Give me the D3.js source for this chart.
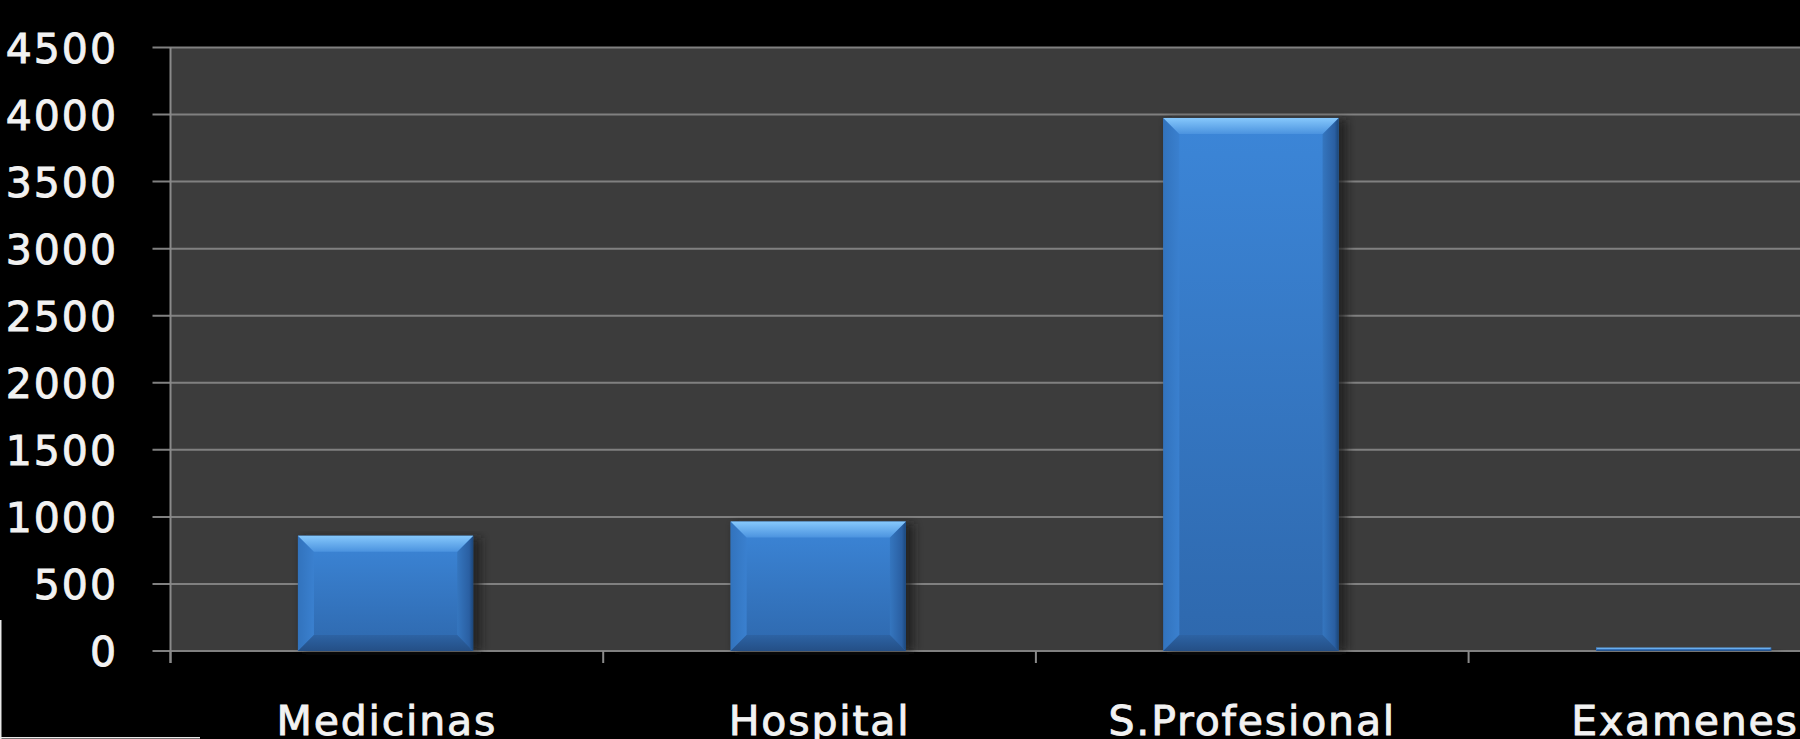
<!DOCTYPE html>
<html>
<head>
<meta charset="utf-8">
<script src="https://cdn.jsdelivr.net/npm/d3@7/dist/d3.min.js"></script>
<style>
  html, body { margin: 0; padding: 0; background: #000; overflow: hidden; }
  svg { display: block; }
  text { font-family: "DejaVu Sans", Verdana, sans-serif; fill: #f2f2f2; }
</style>
</head>
<body>
<svg id="chart" width="1800" height="739"></svg>
<script>
// Gastos por rubro
const categories = ["Medicinas", "Hospital", "S.Profesional", "Examenes"];
const values = [860, 965, 3975, 25];
const yTicks = [0, 500, 1000, 1500, 2000, 2500, 3000, 3500, 4000, 4500];

const W = 1800, H = 739;
const plotLeft = 170.5, plotTop = 47.5, plotBase = 651;
const step = 432.7;

const svg = d3.select("#chart");

const x = d3.scaleBand()
  .domain(categories)
  .range([plotLeft, plotLeft + step * categories.length])
  .paddingInner(0.595)
  .paddingOuter(0.2975);

const slot = d3.scaleBand()
  .domain(categories)
  .range([plotLeft, plotLeft + step * categories.length])
  .padding(0);

const y = d3.scaleLinear().domain([0, 4500]).range([plotBase, plotTop]);

// Gradients and shadow filter for the bevelled bars
const defs = svg.append("defs");
function linGrad(id, x1, y1, x2, y2, stops) {
  const g = defs.append("linearGradient").attr("id", id)
    .attr("x1", x1).attr("y1", y1).attr("x2", x2).attr("y2", y2);
  stops.forEach(s => g.append("stop").attr("offset", s[0]).attr("stop-color", s[1]));
}
linGrad("face", 0, 0, 0, 1, [[0, "#3c86d8"], [1, "#2e68ad"]]);
linGrad("bevTop", 0, 0, 0, 1, [[0, "#86c8fc"], [1, "#4b93df"]]);
linGrad("bevLeft", 0, 0, 1, 0, [[0, "#3273bd"], [1, "#3a80cf"]]);
linGrad("bevRight", 0, 0, 1, 0, [[0, "#3576bf"], [0.75, "#2a5fa2"], [1, "#1b4679"]]);
linGrad("bevBottom", 0, 0, 0, 1, [[0, "#2d63a4"], [1, "#244f86"]]);

const f = defs.append("filter").attr("id", "shadow")
  .attr("x", "-20%").attr("y", "-5%").attr("width", "140%").attr("height", "110%");
f.append("feGaussianBlur").attr("stdDeviation", 4);

// Plot area
svg.append("rect")
  .attr("x", plotLeft).attr("y", plotTop)
  .attr("width", W - plotLeft).attr("height", plotBase - plotTop)
  .attr("fill", "#3c3c3c");

// Horizontal gridlines
svg.append("g")
  .selectAll("line")
  .data(yTicks)
  .join("line")
  .attr("x1", plotLeft - 18).attr("x2", W)
  .attr("y1", d => y(d)).attr("y2", d => y(d))
  .attr("stroke", "#808080").attr("stroke-width", 2);

// Y axis labels
const yAxis = d3.axisLeft(y).tickValues(yTicks).tickFormat(d3.format("d")).tickSize(0).tickPadding(0);
const ga = svg.append("g").attr("transform", "translate(118,0)").call(yAxis);
ga.select(".domain").remove();
ga.selectAll("text")
  .attr("font-size", 41)
  .attr("font-family", "DejaVu Sans, sans-serif")
  .attr("letter-spacing", 2)
  .attr("fill", "#f2f2f2")
  .attr("stroke", "#f2f2f2")
  .attr("stroke-width", 0.9)
  .attr("text-anchor", "end")
  .attr("dy", "0.36em")
  .attr("x", 0);

// Vertical axis line
svg.append("line")
  .attr("x1", plotLeft).attr("x2", plotLeft)
  .attr("y1", plotTop).attr("y2", plotBase + 12)
  .attr("stroke", "#8a8a8a").attr("stroke-width", 2);

// Category boundary ticks
svg.append("g")
  .selectAll("line")
  .data(categories)
  .join("line")
  .attr("x1", d => slot(d)).attr("x2", d => slot(d))
  .attr("y1", plotBase).attr("y2", plotBase + 12)
  .attr("stroke", "#8a8a8a").attr("stroke-width", 2);

// Bars
const bars = svg.append("g")
  .selectAll("g")
  .data(categories.map((c, i) => ({ c, v: values[i] })))
  .join("g");

bars.each(function (d) {
  const g = d3.select(this);
  const x0 = x(d.c) - 1.3, x1 = x0 + x.bandwidth();
  const yt = y(d.v), yb = y(0);
  const h = yb - yt;
  const b = Math.min(16, h / 2);

  g.append("rect")
    .attr("x", x0 + 4).attr("y", yt + 2)
    .attr("width", x1 - x0 + 4).attr("height", h - 2)
    .attr("fill", "#1a1a1a").attr("opacity", 0.75)
    .attr("filter", "url(#shadow)");

  g.append("rect")
    .attr("x", x0).attr("y", yt).attr("width", x1 - x0).attr("height", h)
    .attr("fill", "url(#face)");

  const poly = pts => pts.map(p => p.join(",")).join(" ");
  g.append("polygon")
    .attr("points", poly([[x0, yt], [x0 + b, yt + b], [x0 + b, yb - b], [x0, yb]]))
    .attr("fill", "url(#bevLeft)");
  g.append("polygon")
    .attr("points", poly([[x1, yt], [x1 - b, yt + b], [x1 - b, yb - b], [x1, yb]]))
    .attr("fill", "url(#bevRight)");
  g.append("polygon")
    .attr("points", poly([[x0, yb], [x0 + b, yb - b], [x1 - b, yb - b], [x1, yb]]))
    .attr("fill", "url(#bevBottom)");
  g.append("polygon")
    .attr("points", poly([[x0, yt], [x1, yt], [x1 - b, yt + b], [x0 + b, yt + b]]))
    .attr("fill", "url(#bevTop)");
});

// Category labels
svg.append("g")
  .selectAll("text")
  .data(categories)
  .join("text")
  .attr("x", d => x(d) + x.bandwidth() / 2)
  .attr("y", 735)
  .attr("text-anchor", "middle")
  .attr("font-size", 41)
  .attr("letter-spacing", 1.8)
  .attr("stroke", "#f2f2f2")
  .attr("stroke-width", 0.9)
  .text(d => d);

// Thin light frame at the lower left corner
svg.append("rect").attr("x", 0).attr("y", 620).attr("width", 1.5).attr("height", 119).attr("fill", "#e8e8e8");
svg.append("rect").attr("x", 0).attr("y", 737).attr("width", 200).attr("height", 1.5).attr("fill", "#e8e8e8");
</script>
</body>
</html>
